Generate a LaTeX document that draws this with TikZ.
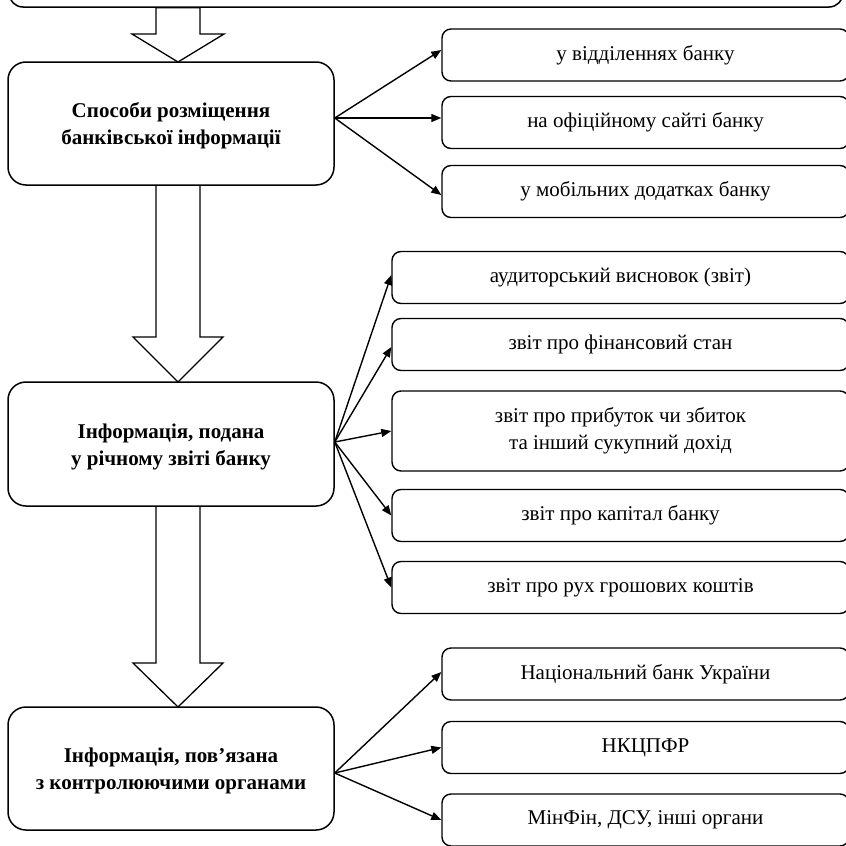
\documentclass[tikz,border=0pt]{standalone}
\usepackage{fontspec}
\setmainfont{Liberation Serif}
\usetikzlibrary{arrows.meta,calc}
\newcommand\topstrut{\rule{0pt}{20pt}}
\begin{document}
\begin{tikzpicture}[x=1pt,y=-1pt,
  mainbox/.style={draw,fill=white,line width=1.5pt,rounded corners=18pt,align=center,
    font=\fontsize{21}{27}\selectfont\bfseries,minimum width=326pt,minimum height=123pt,inner sep=0pt},
  subbox/.style={draw,fill=white,line width=1.4pt,rounded corners=9pt,align=center,
    font=\fontsize{21}{27}\selectfont,minimum height=52pt,inner sep=0pt},
  widebox/.style={subbox,minimum width=407pt},
  midbox/.style={subbox,minimum width=457pt},
  conn/.style={line width=1.4pt,-{Triangle[length=10pt,width=8pt]}},
  blk/.style={draw,line width=1.3pt,fill=white,line join=miter}]
\useasboundingbox (0,0) rectangle (846,846);

% top (cut) box
\node[draw,line width=1.5pt,rounded corners=14pt,minimum width=834pt,minimum height=70pt,inner sep=0pt] (T) at (426,-28) {};

% block arrows (drawn first, boxes on top)
\coordinate (x1) at (178,0);
\coordinate (Atop) at (178,62);
\coordinate (Abot) at (178,185);
\coordinate (Btop) at (178,382);
\coordinate (Bbot) at (178,506);
\coordinate (Ctop) at (178,707);
\draw[blk] (Atop) -- ++(-46,-28) -- ++(24,0) -- ($(x1 |- T.south)+(-22,0)$)
  -- ($(x1 |- T.south)+(22,0)$) -- ($(Atop)+(22,-28)$) -- ++(24,0) -- cycle;
\draw[blk] (Btop) -- ++(-45,-45) -- ++(23,0) -- ($(Abot)+(-22,0)$)
  -- ($(Abot)+(22,0)$) -- ($(Btop)+(22,-45)$) -- ++(23,0) -- cycle;
\draw[blk] (Ctop) -- ++(-45,-44) -- ++(23,0) -- ($(Bbot)+(-22,0)$)
  -- ($(Bbot)+(22,0)$) -- ($(Ctop)+(22,-44)$) -- ++(23,0) -- cycle;

% main boxes
\node[mainbox] (A) at (171,123.5) {\topstrut Способи розміщення\\банківської інформації};
\node[mainbox,minimum height=124pt] (B) at (171,444) {\topstrut Інформація, подана\\у річному звіті банку};
\node[mainbox] (C) at (171,768.5) {\topstrut Інформація, пов’язана\\з контролюючими органами};

% right boxes, group A
\node[widebox] (a1) at (645.5,55) {у відділеннях банку};
\node[widebox] (a2) at (645.5,122.5) {на офіційному сайті банку};
\node[widebox] (a3) at (645.5,191.5) {у мобільних додатках банку};

% group B
\node[midbox] (b1) at (620.5,277.5) {аудиторський висновок (звіт)};
\node[midbox] (b2) at (620.5,344.5) {звіт про фінансовий стан};
\node[midbox,minimum height=80pt] (b3) at (620.5,431) {звіт про прибуток чи збиток\\та інший сукупний дохід};
\node[midbox] (b4) at (620.5,515.5) {звіт про капітал банку};
\node[midbox] (b5) at (620.5,587.5) {звіт про рух грошових коштів};

% group C
\node[widebox] (c1) at (645.5,674) {Національний банк України};
\node[widebox] (c2) at (645.5,747.5) {НКЦПФР};
\node[widebox] (c3) at (645.5,820) {МінФін, ДСУ, інші органи};

% connectors
\draw[conn] ([yshift=5.5pt]A.east) -- ([yshift=5pt]a1.west);
\draw[conn] ([yshift=5.5pt]A.east) -- ([yshift=4.5pt]a2.west);
\draw[conn] ([yshift=5.5pt]A.east) -- ([yshift=-3.5pt]a3.west);

\draw[conn] ([yshift=2pt]B.east) -- ([yshift=2.5pt]b1.west);
\draw[conn] ([yshift=2pt]B.east) -- ([yshift=-2.5pt]b2.west);
\draw[conn] ([yshift=2pt]B.east) -- (b3.west);
\draw[conn] ([yshift=2pt]B.east) -- (b4.west);
\draw[conn] ([yshift=2pt]B.east) -- (b5.west);

\draw[conn] ([yshift=-4.5pt]C.east) -- ([yshift=2pt]c1.west);
\draw[conn] ([yshift=-4.5pt]C.east) -- (c2.west);
\draw[conn] ([yshift=-4.5pt]C.east) -- (c3.west);
\end{tikzpicture}
\end{document}
